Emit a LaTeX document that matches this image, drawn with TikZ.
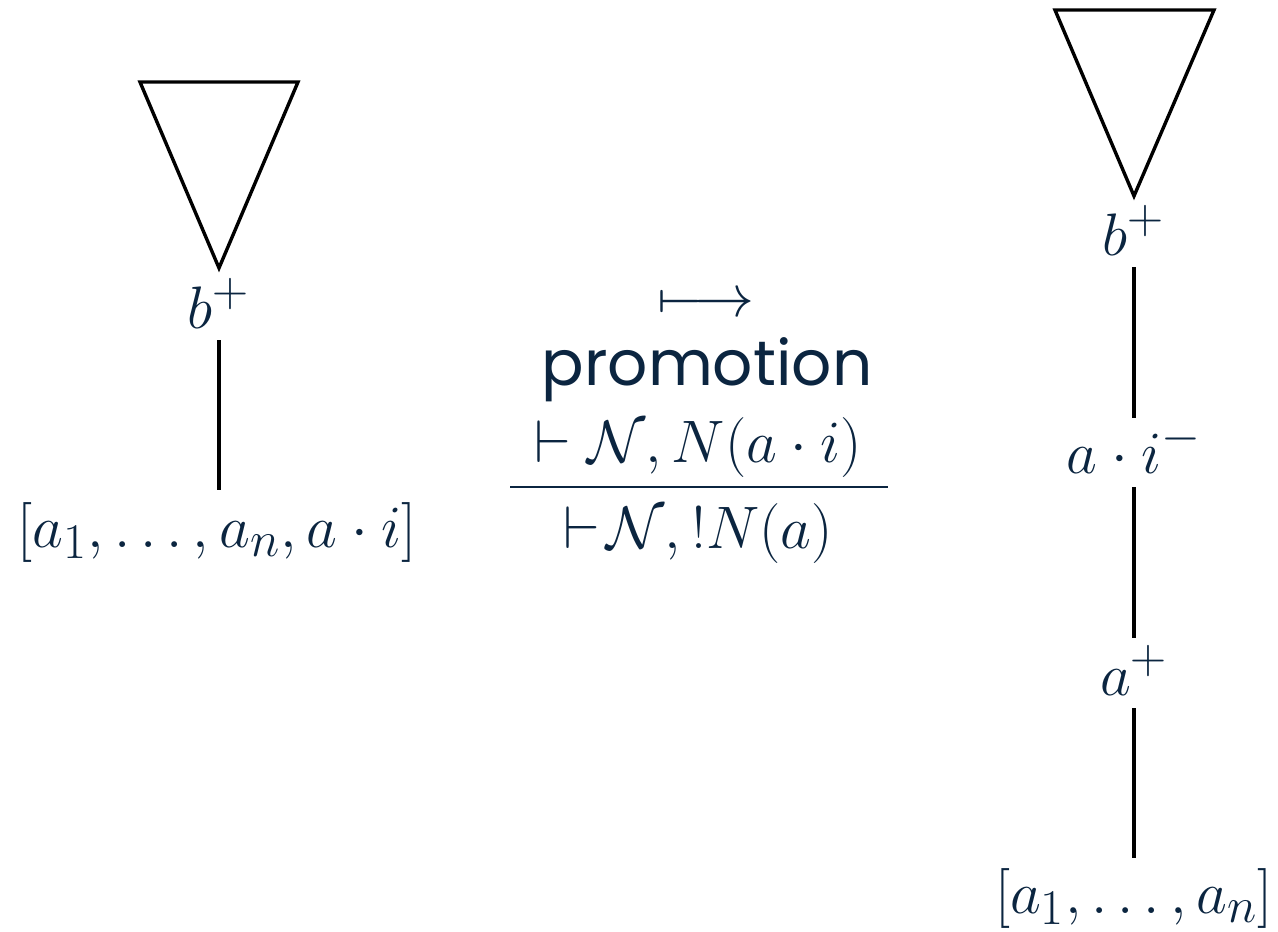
\documentclass[tikz,border=0pt]{standalone}
\usepackage{amsmath,amssymb}
\usepackage{fontspec}
\newfontfamily\promofont{Poppins}
\definecolor{ink}{HTML}{0B2540}
\begin{document}
\begin{tikzpicture}[x=1pt,y=1pt,
  lbl/.style={text=ink, inner sep=0pt, anchor=base, font=\Huge, scale=2.41},
  promo/.style={text=ink, inner sep=0pt, anchor=base, font=\fontsize{63}{70}\selectfont\promofont},
  edge/.style={line width=3.2pt, black},
  tri/.style={line width=3.4pt, black, line join=miter},
  rule/.style={line width=2.5pt, ink}]
\useasboundingbox (0,0) rectangle (1278,-932);
% left tree
\draw[tri] (140,-82) -- (298,-82) -- (219,-268) -- cycle;
\node[lbl] (lb) at (219,-328) {$b^{+}$};
\node[lbl] (ll) at (217,-547) {$[a_1,\ldots,a_n,a\cdot i]$};
\coordinate (l1) at (219,-340);
\coordinate (l2) at (219,-490);
\draw[edge] (l1) -- (l2);
% middle
\node[lbl] (arr) at (706,-316) {$\longmapsto$};
\node[promo] (pr) at (707,-385) {promotion};
\node[lbl] (num) at (698,-462) {$\vdash \mathcal{N}, N(a\cdot i)$};
\node[lbl] (den) at (698,-548) {$\vdash\!\mathcal{N}, !N(a)$};
\coordinate (f1) at (510,-487);
\coordinate (f2) at (888,-487);
\draw[rule] (f1) -- (f2);
% right tree
\draw[tri] (1055,-10) -- (1214,-10) -- (1134,-196) -- cycle;
\node[lbl] (rb) at (1134,-255) {$b^{+}$};
\node[lbl] (rai) at (1134,-473) {$a\cdot i^{-}$};
\node[lbl] (ra) at (1134,-695) {$a^{+}$};
\node[lbl] (rl) at (1134,-913) {$[a_1,\ldots,a_n]$};
\coordinate (r1) at (1134,-267);
\coordinate (r2) at (1134,-418);
\coordinate (r3) at (1134,-487);
\coordinate (r4) at (1134,-638);
\coordinate (r5) at (1134,-708);
\coordinate (r6) at (1134,-858);
\draw[edge] (r1) -- (r2);
\draw[edge] (r3) -- (r4);
\draw[edge] (r5) -- (r6);
\end{tikzpicture}
\end{document}
